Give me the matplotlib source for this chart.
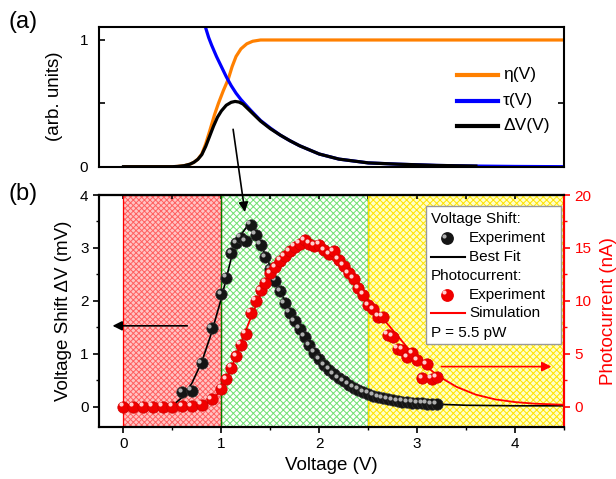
import matplotlib
matplotlib.use("Agg")
from matplotlib import pyplot as plt
from matplotlib.patches import Rectangle, ConnectionPatch
from matplotlib.transforms import ScaledTranslation
from matplotlib.lines import Line2D

plt.rcParams['font.family'] = ['Liberation Sans', 'DejaVu Sans']
plt.rcParams['hatch.linewidth'] = 0.7

# ---- panel (a): model curves
v_eta = [0, 0.5, 0.55, 0.62, 0.68, 0.72, 0.76, 0.8, 0.84, 0.88, 0.93, 0.97, 1.02, 1.07, 1.11, 1.15,
         1.2, 1.26, 1.32, 1.4, 4.5]
eta = [0, 0, 0.002, 0.008, 0.02, 0.035, 0.06, 0.1, 0.18, 0.28, 0.41, 0.5, 0.6, 0.69, 0.79, 0.87,
       0.93, 0.97, 0.99, 1.0, 1.0]

v_tau = [0.83, 0.87, 0.9, 0.95, 1.0, 1.05, 1.1, 1.15, 1.2, 1.3, 1.4, 1.5, 1.6, 1.7, 1.8, 2.0, 2.2,
         2.5, 2.8, 3.2, 3.6, 4.0, 4.5]
tau = [1.12, 1.02, 0.96, 0.87, 0.79, 0.71, 0.64, 0.58, 0.53, 0.445, 0.365, 0.305, 0.25, 0.205, 0.165,
       0.1, 0.06, 0.03, 0.02, 0.01, 0.005, 0.002, 0]

v_dv = [0, 0.5, 0.55, 0.62, 0.68, 0.72, 0.76, 0.8, 0.84, 0.88, 0.92, 0.96, 1.0, 1.05, 1.1, 1.14,
        1.18, 1.22, 1.3, 1.4, 1.5, 1.6, 1.7, 1.8, 2.0, 2.2, 2.5, 2.8, 3.2, 3.6]
dv = [0, 0, 0.002, 0.008, 0.02, 0.035, 0.058, 0.095, 0.16, 0.24, 0.32, 0.39, 0.44, 0.485, 0.508, 0.515,
      0.51, 0.495, 0.435, 0.36, 0.3, 0.25, 0.205, 0.165, 0.1, 0.06, 0.03, 0.02, 0.01, 0.005]

# ---- panel (b): voltage shift experiment (mV)
v_shift = [0.6, 0.7, 0.8, 0.9, 1.0, 1.05, 1.1, 1.15, 1.2, 1.25, 1.3, 1.35, 1.4, 1.45, 1.5, 1.55,
           1.6, 1.65, 1.7, 1.75, 1.8, 1.85, 1.9, 1.95, 2.0, 2.05, 2.1, 2.15, 2.2, 2.25, 2.3, 2.35,
           2.4, 2.45, 2.5, 2.55, 2.6, 2.65, 2.7, 2.75, 2.8, 2.85, 2.9, 2.95, 3.0, 3.05, 3.1, 3.15, 3.2]
shift = [0.28, 0.30, 0.82, 1.48, 2.13, 2.44, 2.90, 3.09, 3.19, 3.13, 3.44, 3.25, 3.06, 2.82, 2.60, 2.38,
         2.18, 1.96, 1.78, 1.62, 1.47, 1.32, 1.16, 1.02, 0.90, 0.79, 0.70, 0.62, 0.54, 0.48, 0.42, 0.36,
         0.32, 0.28, 0.25, 0.21, 0.18, 0.16, 0.14, 0.12, 0.11, 0.10, 0.09, 0.08, 0.07, 0.07, 0.06, 0.05, 0.05]

v_fit = [0.5, 0.6, 0.7, 0.8, 0.9, 1.0, 1.1, 1.2, 1.26, 1.3, 1.4, 1.5, 1.6, 1.7, 1.8, 1.9, 2.0,
         2.2, 2.4, 2.6, 2.8, 3.0, 3.2, 3.5, 4.0, 4.5]
fit = [0.02, 0.18, 0.45, 0.85, 1.4, 2.05, 2.8, 3.25, 3.4, 3.37, 3.08, 2.65, 2.2, 1.78, 1.45, 1.13, 0.88,
       0.52, 0.3, 0.17, 0.1, 0.07, 0.05, 0.03, 0.02, 0.02]

# ---- panel (b): photocurrent experiment (nA)
v_pc = [0, 0.1, 0.2, 0.3, 0.4, 0.5, 0.6, 0.7, 0.8, 0.9, 1.0, 1.05, 1.1, 1.15, 1.2, 1.25, 1.3, 1.35,
        1.4, 1.45, 1.5, 1.55, 1.6, 1.65, 1.7, 1.75, 1.8, 1.85, 1.9, 1.95, 2.0, 2.05, 2.1, 2.15, 2.2,
        2.25, 2.3, 2.35, 2.4, 2.45, 2.5, 2.55, 2.6, 2.65, 2.7, 2.75, 2.8, 2.85, 2.9, 2.95, 3.0, 3.05,
        3.1, 3.15, 3.2]
pc = [0, 0, 0, 0, 0, 0, 0.05, 0.05, 0.2, 0.7, 1.7, 2.6, 3.7, 4.8, 5.85, 6.9, 8.9, 10.0,
      11.0, 11.7, 12.6, 13.2, 13.8, 14.2, 14.7, 15.1, 15.4, 15.75, 15.4, 15.2, 15.3, 14.8, 14.4, 14.7, 13.9,
      13.3, 12.6, 12.1, 11.2, 10.6, 9.6, 9.2, 8.5, 8.5, 6.8, 6.6, 5.5, 5.4, 4.7, 5.05, 4.4, 2.7,
      4.0, 2.65, 2.8]

v_sim = [0, 0.8, 0.9, 1.0, 1.1, 1.2, 1.3, 1.4, 1.5, 1.6, 1.7, 1.8, 1.9, 2.0, 2.1, 2.2, 2.3, 2.4,
         2.5, 2.6, 2.7, 2.8, 2.9, 3.0, 3.2, 3.4, 3.6, 3.8, 4.0, 4.2, 4.5]
sim = [0, 0.1, 0.6, 1.6, 3.6, 6.0, 8.4, 10.6, 12.4, 13.8, 14.7, 15.1, 15.1, 14.8, 14.2, 13.4, 12.4, 11.3,
       10.1, 8.9, 7.8, 6.7, 5.6, 4.6, 3.0, 1.9, 1.15, 0.7, 0.45, 0.3, 0.2]

fig = plt.figure(figsize=(6.16, 4.79), dpi=100)
ax_a = fig.add_axes([0.1607, 0.652, 0.7549, 0.2923])
ax_b = fig.add_axes([0.1607, 0.1086, 0.7549, 0.4843])
ax_r = ax_b.twinx()

# ---------------- panel (a)
ax_a.plot(v_eta, eta, color='#ff8000', lw=2.3, solid_capstyle='butt')
ax_a.plot(v_tau, tau, color='#0000ff', lw=2.3)
ax_a.plot(v_dv, dv, color='black', lw=2.3)
ax_a.set_xlim(-0.25, 4.5)
ax_a.set_ylim(0, 1.105)
ax_a.set_xticks([])
ax_a.set_yticks([0, 0.5, 1])
ax_a.set_yticklabels(['0', '', '1'])
ax_a.tick_params(axis='y', direction='in', length=4, width=1.2, labelsize=11, left=True, right=True, pad=8)
for s in ax_a.spines.values():
    s.set_linewidth(1.5)
ax_a.set_ylabel('(arb. units)', fontsize=13.5, labelpad=12)

for y, c, lab in [(0.655, '#ff8000', 'η(V)'), (0.471, '#0000ff', 'τ(V)'), (0.291, 'black', 'ΔV(V)')]:
    ax_a.add_line(Line2D([0.769, 0.857], [y, y], color=c, lw=3, transform=ax_a.transAxes))
    ax_a.text(0.869, y, lab, transform=ax_a.transAxes, fontsize=12.5, va='center')

# ---------------- panel (b)
regions = [(0, 1, '#ffc4c4', '#ff6060', 'xxxxxx', 'red'),
           (1, 2.5, 'white', '#70e070', 'xxxxx', 'green'),
           (2.5, 4.5, '#ffffc8', '#ffe400', 'xxxxx', '#ffe000')]
for x0, x1, fc, hc, h, ec in regions:
    ax_b.axvspan(x0, x1, facecolor=fc, edgecolor=hc, hatch=h, lw=0, zorder=0)
    ax_b.axvspan(x0, x1, facecolor='none', edgecolor=ec, lw=0.9, zorder=0.5)

ax_b.plot(v_fit, fit, color='black', lw=1.2, zorder=2)
ax_r.plot(v_sim, sim, color='red', lw=1.3, zorder=2)

ms_big, ms_hl = 8.2, 3.0
hl = ScaledTranslation(-1.8 / 72, 1.8 / 72, fig.dpi_scale_trans)
ax_b.plot(v_shift, shift, 'o', ms=ms_big, color='#151515', mec='#303030', mew=0.5, zorder=3)
ax_b.plot(v_shift, shift, 'o', ms=ms_hl, color='#b0b0b0', mew=0, zorder=4,
          transform=ax_b.transData + hl)
ax_r.plot(v_pc, pc, 'o', ms=ms_big, color='#f00000', mec='#d00000', mew=0.5, zorder=3)
ax_r.plot(v_pc, pc, 'o', ms=ms_hl, color='#ffd0d0', mew=0, zorder=4,
          transform=ax_r.transData + hl)

ax_b.set_xlim(-0.25, 4.5)
ax_b.set_ylim(-0.38, 4.0)
ax_r.set_ylim(-1.9, 20)
ax_b.set_xticks([0, 1, 2, 3, 4])
ax_b.set_xticks([0.5, 1.5, 2.5, 3.5, 4.5], minor=True)
ax_b.set_yticks([0, 1, 2, 3, 4])
ax_b.set_yticks([0.5, 1.5, 2.5, 3.5], minor=True)
ax_r.set_yticks([0, 5, 10, 15, 20])
ax_r.set_yticks([2.5, 7.5, 12.5, 17.5], minor=True)

ax_b.tick_params(axis='both', which='major', direction='out', length=4, width=1.2, labelsize=11)
ax_b.tick_params(axis='both', which='minor', direction='out', length=2, width=1)
top = ax_b.secondary_xaxis('top')
top.set_xticks([0, 0.5, 1, 1.5, 2, 2.5, 3, 3.5, 4, 4.5])
top.tick_params(direction='in', length=3, width=1.2, labeltop=False)
top.spines['top'].set_linewidth(1.5)
ax_r.tick_params(axis='y', which='major', direction='out', length=4, width=1.2, labelsize=11,
                 colors='red')
ax_r.tick_params(axis='y', which='minor', direction='out', length=2, width=1, colors='red')
for s in ax_b.spines.values():
    s.set_linewidth(1.5)
for s in ax_r.spines.values():
    s.set_linewidth(1.5)
ax_r.spines['right'].set_color('red')

ax_b.set_xlabel('Voltage (V)', fontsize=13.5, labelpad=4)
ax_b.set_ylabel('Voltage Shift ΔV (mV)', fontsize=13.5, labelpad=6)
ax_r.set_ylabel('Photocurrent (nA)', fontsize=13.5, color='red', labelpad=6)

# arrows pointing at the axes
ax_b.annotate('', xy=(-0.14, 1.53), xytext=(0.68, 1.53),
              arrowprops=dict(arrowstyle='-|>', color='black', lw=1.2, mutation_scale=14),
              annotation_clip=False, zorder=5)
ax_r.annotate('', xy=(4.40, 3.8), xytext=(3.22, 3.8),
              arrowprops=dict(arrowstyle='-|>', color='red', lw=1.2, mutation_scale=14),
              annotation_clip=False, zorder=5)
con = ConnectionPatch(xyA=(1.12, 0.295), coordsA=ax_a.transData,
                      xyB=(1.24, 3.68), coordsB=ax_b.transData,
                      arrowstyle='-|>', color='black', lw=1.2, mutation_scale=14)
fig.add_artist(con)

# legend drawn by hand
ax_r.add_patch(Rectangle((0.703, 0.358), 0.291, 0.595, transform=ax_r.transAxes,
                         facecolor='white', edgecolor='#999999', lw=1, zorder=6))
rows = [0.895, 0.813, 0.734, 0.652, 0.569, 0.490, 0.404]
tx_h, tx_e = 0.713, 0.796
kw = dict(transform=ax_r.transAxes, fontsize=11, va='center', zorder=7)
ax_r.text(tx_h, rows[0], 'Voltage Shift:', **kw)
ax_r.text(tx_e, rows[1], 'Experiment', **kw)
ax_r.text(tx_e, rows[2], 'Best Fit', **kw)
ax_r.text(tx_h, rows[3], 'Photocurrent:', **kw)
ax_r.text(tx_e, rows[4], 'Experiment', **kw)
ax_r.text(tx_e, rows[5], 'Simulation', **kw)
ax_r.text(tx_h, rows[6], 'P = 5.5 pW', **kw)
ax_r.add_line(Line2D([0.748], [rows[1]], marker='o', ms=ms_big, color='#151515', transform=ax_r.transAxes, zorder=7))
ax_r.add_line(Line2D([0.748], [rows[1]], marker='o', ms=ms_hl, color='#b0b0b0', mew=0,
                     transform=ax_r.transAxes + hl, zorder=8))
ax_r.add_line(Line2D([0.713, 0.787], [rows[2]] * 2, color='black', lw=1.5, transform=ax_r.transAxes, zorder=7))
ax_r.add_line(Line2D([0.748], [rows[4]], marker='o', ms=ms_big, color='#f00000', transform=ax_r.transAxes, zorder=7))
ax_r.add_line(Line2D([0.748], [rows[4]], marker='o', ms=ms_hl, color='#ffd0d0', mew=0,
                     transform=ax_r.transAxes + hl, zorder=8))
ax_r.add_line(Line2D([0.713, 0.787], [rows[5]] * 2, color='red', lw=1.5, transform=ax_r.transAxes, zorder=7))

fig.text(0.013, 0.955, '(a)', fontsize=17, va='center')
fig.text(0.013, 0.595, '(b)', fontsize=17, va='center')

fig.savefig('out.png', dpi=100)
